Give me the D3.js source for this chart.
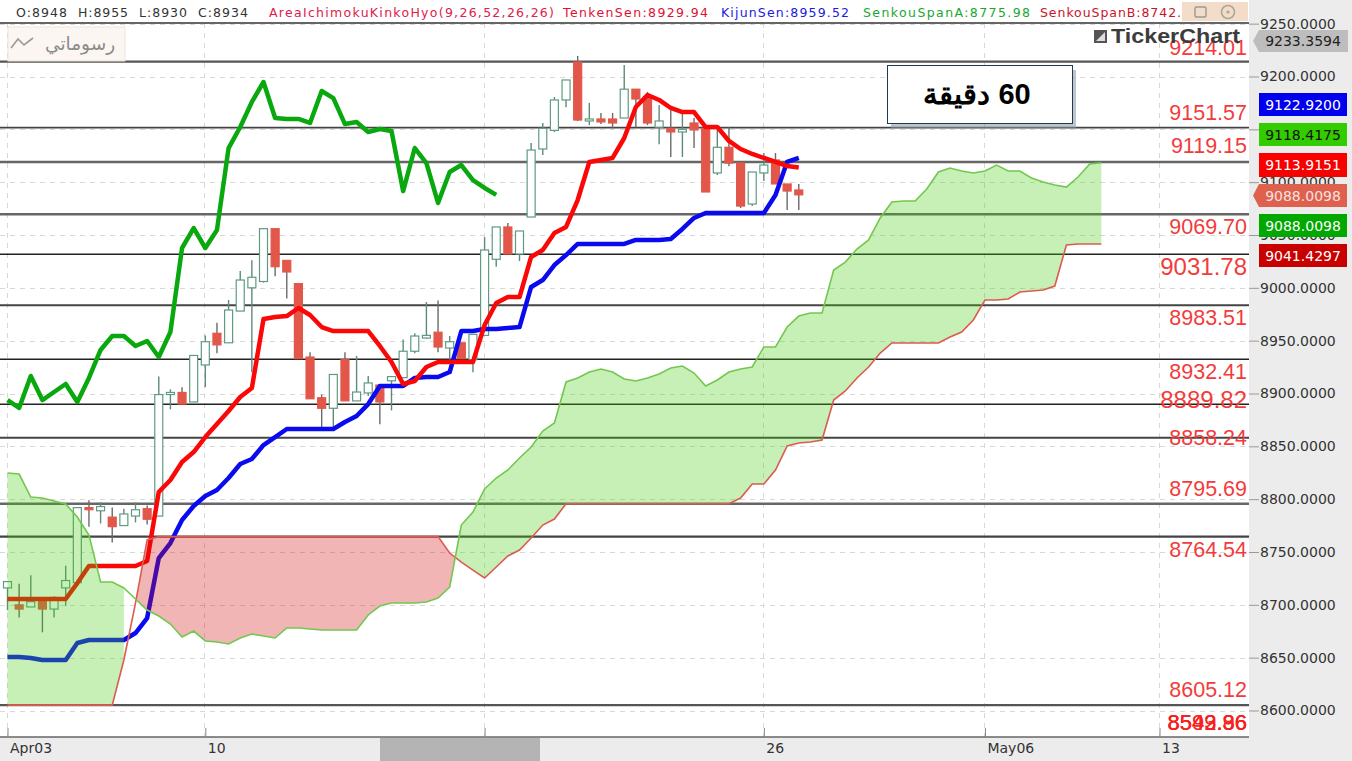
<!DOCTYPE html>
<html><head><meta charset="utf-8">
<script src="https://cdn.jsdelivr.net/npm/d3@7/dist/d3.min.js"></script>
<style>html,body{margin:0;padding:0;background:#fff;overflow:hidden}svg{display:block}</style>
</head><body><svg id="c" width="1352" height="761"></svg>
<script>
// ---------- data (price units, candle index) ----------
const opens=[8716,8700,8698,8703,8696,8716,8721,8792,8789,8783,8775,8784,8791,8784,8899,8901,8892,8927,8957,8948,8978,9000,9006,9056,9026,9004,8934.5,8896,8886,8932,8893,8900.5,8908,8912,8915,8940,8952.5,8958,8943,8948,8932,8955,9027,9057.6,9032,9067,9131.4,9149,9177.8,9213.7,9157.9,9159.8,9159.8,9160.7,9188,9180.6,9152,9151,9147.5,9156,9151,9108.7,9133,9118,9079.3,9108.7,9121,9098.3,9092.6];
const highs=[8722,8720,8728,8703,8708,8737,8792,8799,8797,8792,8791,8797,8794,8916,8904,8906,8936,8955,8967,8988.5,9016,9026,9056,9056,9026,9004,8939,8899,8918,8939,8935.5,8916.6,8908,8916,8951,8957,8986.6,8988,8954.4,8948,8956,9048,9057.6,9061.4,9053.8,9137,9156,9180.6,9196.7,9219.4,9175,9165.5,9165.5,9210.9,9188,9185.3,9173,9168.3,9166.4,9160.7,9151,9151,9152,9120,9109.6,9127.6,9127.6,9098.3,9098.3];
const lows=[8695,8688,8698,8674,8688,8699,8721,8774,8777,8759,8775,8778,8776,8784,8885,8890,8892,8906,8938,8948,8978,8920,9005,9011,8990,8933,8895,8868,8868,8893,8893,8897.6,8871,8884,8915,8938,8952,8939,8932,8933,8920,8955,9020,9032,9025.4,9067,9125.7,9147.5,9171,9157.9,9154,9155,9151,9160.7,9152,9154,9136,9123.8,9123.8,9132.3,9090.7,9106.8,9115,9075.5,9077.4,9101,9098.3,9073.7,9073.7];
const closes=[8722,8696,8703,8696,8707,8723,8792,8790,8793,8774,8786,8790,8781,8899,8901,8890,8936,8949,8946,8979,9007.4,9010,9056,9020,9015,8933,8895,8886,8918,8893,8901.4,8910,8892,8916,8940,8954.4,8955,8944,8949,8933,8956,9035.8,9057.6,9032,9053.8,9130.4,9151,9177.8,9196.7,9158.8,9159.8,9157,9156,9188,9178.7,9156,9157.9,9147.5,9150,9149.4,9090.7,9133,9118,9077.4,9109.6,9116.2,9098.3,9091.6,9088];
const tenkanSen=[8705.5,8705.5,8705.5,8705.5,8705.5,8705.5,8720.6,8736.7,8736.7,8736.7,8736.7,8736.7,8741.5,8806.8,8818.1,8835.2,8844.6,8858.8,8871.1,8883.4,8896.7,8905.2,8970.5,8972.4,8973.3,8980.9,8974.3,8962.9,8959.1,8959.1,8959.1,8959.1,8945,8929.8,8909,8911.8,8925.1,8929.8,8929.8,8929.8,8929.8,8964.8,8985.6,8991.3,8991.3,9029.2,9035.8,9051.9,9057.6,9083.1,9119.1,9121,9122.9,9141.8,9171.1,9182.5,9177.8,9170.2,9166.4,9166.4,9152.2,9152.2,9139,9131.4,9126.7,9122.9,9119.1,9115.3,9113.9];
const kijunSen=[8650.6,8650.6,8649.7,8647.8,8647.8,8647.8,8663.9,8666.7,8666.7,8666.7,8666.7,8673.3,8687.5,8744.3,8758.5,8780.3,8793.5,8803,8808.7,8820,8833.3,8838,8851.2,8858.8,8866.4,8866.4,8866.4,8866.4,8866.4,8873,8878.7,8890,8907.1,8907.1,8907.1,8914.7,8915.6,8915.6,8920.3,8959.1,8959.1,8961,8961,8962,8962.9,9000.8,9007.4,9021.6,9031,9041.5,9041.5,9041.5,9041.5,9041.5,9045.3,9045.3,9045.3,9046.2,9055.7,9066.1,9070.8,9070.8,9070.8,9070.8,9070.8,9070.8,9087.8,9119.1,9122.9];
const chikouSpan=[8893.8,8886.3,8916.6,8893.8,8901.4,8909,8892,8914.7,8941.2,8954.4,8954.4,8945,8949.7,8934.5,8958.2,9037.7,9056.6,9037.7,9054.7,9132.3,9152.2,9175.9,9194.8,9160.7,9159.8,9159.8,9156,9186.3,9179.6,9155,9156.9,9147.5,9150.3,9148.4,9091.6,9132.3,9118.1,9080.3,9109.6,9116.2,9102,9094.5,9088];
const senkouSpanA=[8824.8,8823.8,8802,8801.1,8798.3,8795.4,8783.1,8766.1,8721.6,8721.6,8715.9,8705.5,8695.1,8689.4,8681.8,8669.6,8675.2,8665.8,8664.8,8662.9,8668.6,8672.4,8670.5,8668.6,8678.1,8678.1,8677.1,8676.2,8676.2,8676.2,8676.2,8690.4,8698.9,8701.7,8701.7,8701.7,8702.7,8706.4,8716.9,8775.5,8787.8,8809.6,8820,8827.6,8839,8849.4,8864.5,8872.1,8910.9,8914.7,8920.3,8923.2,8920.3,8913.7,8911.8,8914.7,8918.4,8924.1,8926,8919.4,8907.1,8912.8,8920.3,8923.2,8925.1,8944,8944,8962.9,8973.3,8976.2,8976.2,9016.9,9024.4,9036.7,9045.3,9066.1,9081.2,9082.2,9082.2,9093.5,9109.6,9113.4,9110.6,9108.7,9110.6,9116.2,9110.6,9110.6,9103.9,9100.1,9097.3,9095.4,9104.9,9117.2,9118.4];
const senkouSpanB=[8605.12,8605.12,8605.12,8605.12,8605.12,8605.12,8605.12,8605.12,8605.12,8605.12,8647.8,8701.7,8761.4,8764.54,8764.54,8764.54,8764.54,8764.54,8764.54,8764.54,8764.54,8764.54,8764.54,8764.54,8764.54,8764.54,8764.54,8764.54,8764.54,8764.54,8764.54,8764.54,8764.54,8764.54,8764.54,8764.54,8764.54,8764.54,8749,8740.5,8732.9,8725.4,8735.8,8746.2,8751.9,8763.2,8775.5,8781.2,8795.69,8795.69,8795.69,8795.69,8795.69,8795.69,8795.69,8795.69,8795.69,8795.69,8795.69,8795.69,8795.69,8795.69,8795.69,8801.1,8814.3,8814.3,8827.6,8850.3,8853.1,8854.1,8856,8893.8,8902.4,8914.7,8925.1,8938.3,8947.8,8947.8,8947.8,8947.8,8947.8,8953.5,8958.2,8969.6,8988.5,8988.5,8989.4,8996,8997,8998,9001.7,9040.5,9041.43,9041.43,9041.43];
const levels=[9214.01,9151.57,9119.15,9069.70,9031.78,8983.51,8932.41,8889.82,8858.24,8795.69,8764.54,8605.12];
const levelLabels=["9214.01","9151.57","9119.15","9069.70","9031.78","8983.51","8932.41","8889.82","8858.24","8795.69","8764.54","8605.12"];
const bottomLabels=["8542.86","8549.36","8593.96"];
const yTicks=[9250,9200,9150,9100,9050,9000,8950,8900,8850,8800,8750,8700,8650,8600];
const xTicks=[0,17,41,65,84,99];
const xTickLabels=["Apr03","10","","26","May06","13"];
const priceTags=["9233.3594","9122.9200","9118.4175","9113.9151","9088.0098","9088.0098","9041.4297"];

// ---------- layout ----------
const W=1352,H=761,plotR=1249,plotT=23,plotB=737;
const svg=d3.select("#c");
const x=d3.scaleLinear().domain([0,99]).range([7.5,1159.5]);
const y=d3.scaleLinear().domain([9200,8600]).range([76.5,710.5]);
const sans="'Liberation Sans',Arial,sans-serif", dv="'DejaVu Sans',sans-serif";

svg.append("rect").attr("width",W).attr("height",H).attr("fill","#fff");

// grid
const grid=svg.append("g").attr("stroke","#d8d8d8").attr("stroke-width",1).attr("stroke-dasharray","5,5").attr("fill","none");
grid.selectAll("line.h").data(yTicks).join("line").attr("x1",0).attr("x2",plotR).attr("y1",d=>Math.round(y(d))+.5).attr("y2",d=>Math.round(y(d))+.5);
grid.selectAll("line.v").data(xTicks).join("line").attr("y1",plotT).attr("y2",plotB).attr("x1",d=>Math.round(x(d))-.5).attr("x2",d=>Math.round(x(d))-.5);

// horizontal levels
const levelW=[2.2,1.8,2.6,2.4,1.7,2,1.7,1.7,2,2.6,2.2,2.2];
const levelC=["#555","#444","#666","#666","#222","#444","#222","#222","#444","#666","#444","#555"];
svg.append("g").selectAll("line").data(levels).join("line")
 .attr("x1",0).attr("x2",plotR).attr("y1",d=>y(d)).attr("y2",d=>y(d))
 .attr("stroke",(d,i)=>levelC[i]).attr("stroke-width",(d,i)=>levelW[i]);

// candles
const candles=opens.map((o,i)=>({i,o,h:highs[i],l:lows[i],c:closes[i]}));
const cg=svg.append("g");
cg.selectAll("line").data(candles).join("line")
 .attr("x1",d=>x(d.i)).attr("x2",d=>x(d.i)).attr("y1",d=>y(d.h)).attr("y2",d=>y(d.l))
 .attr("stroke",d=>d.c>=d.o?"#5f8a78":"#6a6a6a").attr("stroke-width",1.4);
cg.selectAll("rect").data(candles).join("rect")
 .attr("x",d=>x(d.i)-4).attr("width",8)
 .attr("y",d=>y(Math.max(d.o,d.c))).attr("height",d=>Math.max(1.5,Math.abs(y(d.o)-y(d.c))))
 .attr("fill",d=>d.c>=d.o?"#fff":"#e2574a").attr("stroke",d=>d.c>=d.o?"#5f9a82":"#e2574a").attr("stroke-width",1.2);

// indicator lines
const lineOf=v=>d3.line().x((d,i)=>x(i)).y(d=>y(d))(v);
[[chikouSpan,"#09a80e"],[kijunSen,"#0a0af0"],[tenkanSen,"#fb0707"]].forEach(([v,col])=>{
 svg.append("path").attr("d",lineOf(v)).attr("fill","none").attr("stroke",col).attr("stroke-width",4.5).attr("stroke-linejoin","round");
});

// cloud: split A/B into runs at their crossings
const cloud=svg.append("g");
const area=d3.area().x(d=>x(d.i)).y0(d=>y(d.a)).y1(d=>y(d.b));
const runs=[];let cur=[];
const firstGreenEnd=10; // left part of the cloud stops at this bar
senkouSpanA.forEach((a,i)=>{
 const b=senkouSpanB[i];cur.push({i,a,b});
 if(i<senkouSpanA.length-1){
  const a2=senkouSpanA[i+1],b2=senkouSpanB[i+1];
  if((a-b)*(a2-b2)<0){const t=(a-b)/((a-b)-(a2-b2));const v=a+(a2-a)*t;const p={i:i+t,a:v,b:v};cur.push(p);runs.push(cur);cur=[p];}
 }
});
runs.push(cur);
runs.forEach((r,n)=>{
 const up=r[Math.floor(r.length/2)].a>=r[Math.floor(r.length/2)].b;
 const pts=n===0?r.filter(d=>d.i<=firstGreenEnd):r;
 cloud.append("path").attr("d",area(pts)).attr("fill",up?"rgb(71,205,18)":"rgb(212,11,11)").attr("fill-opacity",.3);
});
const senkou=(v,col)=>svg.append("path").attr("d",lineOf(v)).attr("fill","none").attr("stroke",col).attr("stroke-width",1.6);
senkou(senkouSpanB,"#dc5a50");
senkou(senkouSpanA,"#72c84e");

// level labels
const labelDy=[-15,-16,-17,12,13,12,12,-4,-1,-16,12,-16];
const labelSize=[21.5,21.5,21.5,21.5,24,21.5,21.5,24,21.5,21.5,21.5,21.5];
svg.append("g").selectAll("text").data(levelLabels).join("text")
 .attr("x",1247).attr("y",(d,i)=>y(levels[i])+labelDy[i]+8).attr("text-anchor","end")
 .attr("font-family",sans).attr("font-size",(d,i)=>labelSize[i]).attr("fill","#f23c3c").text(d=>d);
svg.append("g").selectAll("text").data(bottomLabels).join("text")
 .attr("x",1247).attr("y",730).attr("text-anchor","end")
 .attr("font-family",sans).attr("font-size",22).attr("fill","#f81f1f").text(d=>d);

// axis backgrounds
svg.append("rect").attr("x",plotR).attr("y",0).attr("width",W-plotR).attr("height",H).attr("fill","#ececec");
svg.append("rect").attr("x",0).attr("y",plotB).attr("width",plotR).attr("height",H-plotB).attr("fill","#ececec");
svg.append("line").attr("x1",0).attr("x2",plotR).attr("y1",plotT).attr("y2",plotT).attr("stroke","#333").attr("stroke-width",1.4);
svg.append("line").attr("x1",0).attr("x2",plotR).attr("y1",plotB).attr("y2",plotB).attr("stroke","#666").attr("stroke-width",1.4);

// right axis (the 9150 label is fully hidden behind the price tags in the reference)
const yAxis=d3.axisRight(y).tickValues(yTicks).tickSize(10).tickFormat(d=>d===9150?"":d3.format(".4f")(d));
const ya=svg.append("g").attr("transform",`translate(${plotR},0)`).call(yAxis);
ya.select(".domain").remove();
ya.selectAll("line").attr("stroke","#999");
ya.selectAll("text").attr("x",11).attr("font-family",dv).attr("font-size",14).attr("fill","#333");

// bottom axis
const xAxis=d3.axisBottom(x).tickValues(xTicks).tickSize(-9).tickFormat((d,i)=>xTickLabels[i]);
const xa=svg.append("g").attr("transform",`translate(0,${plotB})`).call(xAxis);
xa.select(".domain").remove();
xa.selectAll("line").attr("stroke","#888");
xa.selectAll("text").attr("text-anchor","start").attr("x",2).attr("y",11).attr("dy",".35em").attr("font-family",dv).attr("font-size",14).attr("fill","#333");
svg.append("rect").attr("x",380).attr("y",738).attr("width",160).attr("height",23).attr("fill","#b4b4b4");

// price tags
const tagY=[30,93,123,153,184,214,244], tagH=[22,23,23,24,23,23,23];
const tagFill=["#bdbdbd","#0000ee","#33cc00","#f80000","#e0604e","#00a800","#c80000"];
const tagText=["#222","#fff","#111","#fff","#f4e4e0","#fff","#fff"];
const tg=svg.append("g");
priceTags.forEach((t,i)=>{
 const y0=tagY[i],h=tagH[i];
 const hasArrow=(i===0||i===4);
 const xl=1259, xr=i===0?1348:1347;
 const d=hasArrow?`M${xl-6},${y0+h/2}L${xl},${y0}H${xr}V${y0+h}H${xl}Z`:`M${xl},${y0}H${xr}V${y0+h}H${xl}Z`;
 tg.append("path").attr("d",d).attr("fill",tagFill[i]);
 tg.append("text").attr("x",1303).attr("y",y0+h/2+5).attr("text-anchor","middle").attr("font-family",dv).attr("font-size",14).attr("fill",tagText[i]).text(t);
});

// header
svg.append("rect").attr("width",plotR).attr("height",plotT-1).attr("fill","#fff");
const head=[["O:8948",16,51,"#333"],["H:8955",78,50,"#333"],["L:8930",139,48,"#333"],["C:8934",198,50,"#333"],
 ["AreaIchimokuKinkoHyo(9,26,52,26,26)",269,285,"#e0204a"],["TenkenSen:8929.94",563,145,"#e01030"],["KijunSen:8959.52",721,128,"#1a1ae0"],
 ["SenkouSpanA:8775.98",863,167,"#18a830"],["SenkouSpanB:8742.",1040,141,"#c81428"]];
svg.append("g").selectAll("text").data(head).join("text")
 .attr("x",d=>d[1]).attr("y",17).attr("textLength",d=>d[2]).attr("lengthAdjust","spacing")
 .attr("font-family",dv).attr("font-size",12.5).attr("fill",d=>d[3]).text(d=>d[0]);
svg.append("rect").attr("x",1182).attr("y",2).attr("width",66).attr("height",19).attr("fill","#f3dcc8");
svg.append("rect").attr("x",1195).attr("y",7).attr("width",11).attr("height",10).attr("rx",1.5).attr("fill","none").attr("stroke","#9a9a92").attr("stroke-width",1.4);
svg.append("circle").attr("cx",1228).attr("cy",12).attr("r",6.5).attr("fill","none").attr("stroke","#a8a89c").attr("stroke-width",1.6);
svg.append("circle").attr("cx",1228).attr("cy",12).attr("r",1.6).attr("fill","#a8a89c");

// drawing tools chip
svg.append("rect").attr("x",8).attr("y",27).attr("width",117).attr("height",34).attr("fill","#fbf6f2").attr("stroke","#f0e4da");
svg.append("path").attr("d","M11,48L18,39L24,45L33,38").attr("fill","none").attr("stroke","#9a9a9a").attr("stroke-width",1.6);
svg.append("text").attr("x",45).attr("y",50).attr("font-family",dv).attr("font-size",18.5).attr("fill","#8c8c8c").text("رسوماتي");

// logo
svg.append("rect").attr("x",1094).attr("y",30).attr("width",13).attr("height",13).attr("fill","#555");
svg.append("path").attr("d","M1096,41L1105,32V41Z").attr("fill","#ddd");
svg.append("text").attr("x",1111).attr("y",43).attr("textLength",129).attr("lengthAdjust","spacingAndGlyphs")
 .attr("font-family",sans).attr("font-weight","bold").attr("font-size",20).attr("fill","#3c3c3c").text("TickerChart");

// timeframe box
svg.append("rect").attr("x",891).attr("y",70).attr("width",185).attr("height",58).attr("fill","#8a96a4").attr("opacity",.55);
svg.append("rect").attr("x",887.5).attr("y",65.5).attr("width",185).attr("height",58).attr("fill","#fff").attr("stroke","#1f3a55");
svg.append("text").attr("x",977).attr("y",104).attr("text-anchor","middle").attr("direction","rtl").attr("font-family",sans).attr("font-weight","bold").attr("font-size",29).attr("fill","#000").text("60 دقيقة");
</script></body></html>
